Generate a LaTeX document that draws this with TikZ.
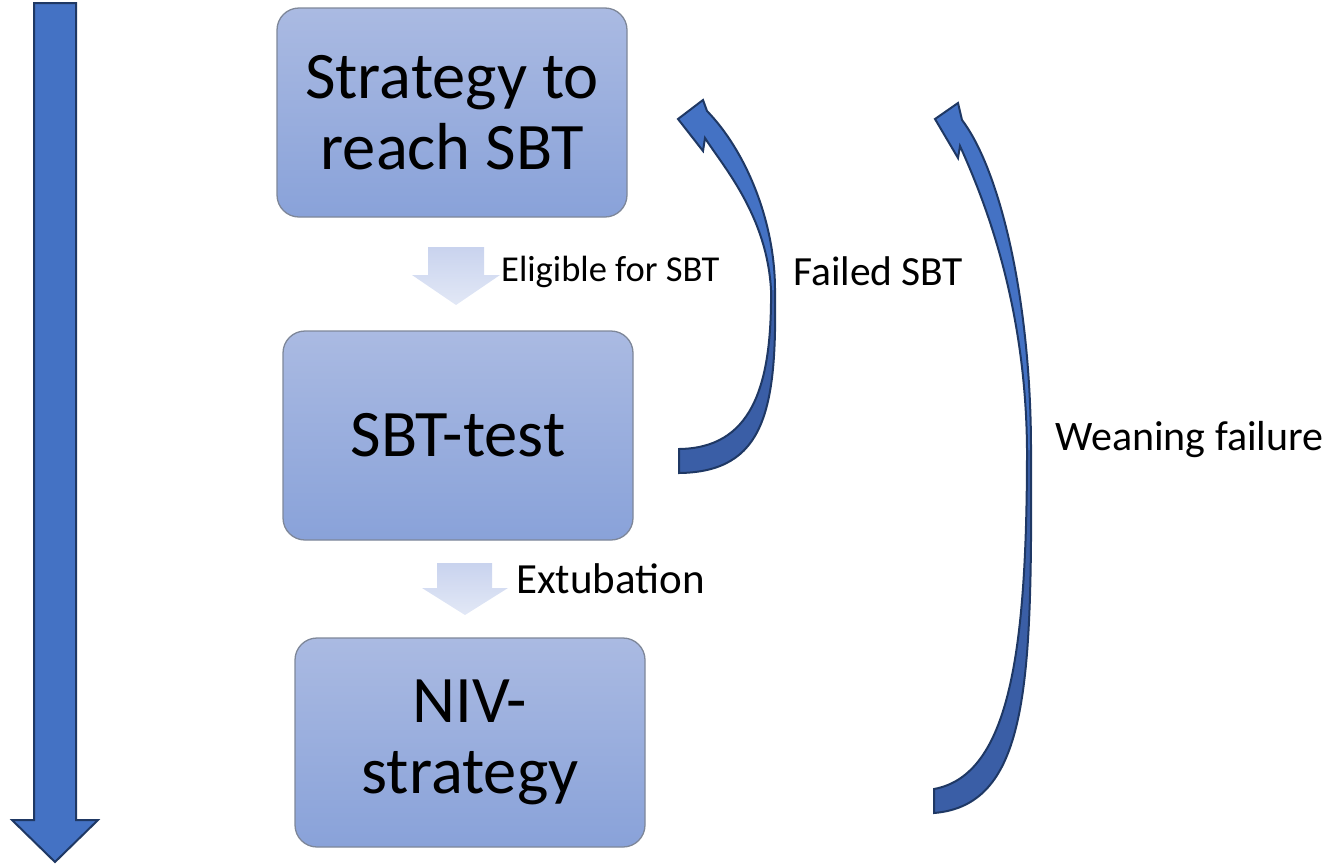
\documentclass[tikz,border=0pt]{standalone}
\usepackage{fontspec}
\setmainfont{Carlito}
\definecolor{arrowblue}{HTML}{4472C4}
\definecolor{arrowdark}{HTML}{3A5EA6}
\definecolor{arrowline}{HTML}{1F3864}
\definecolor{boxtop}{HTML}{AABAE2}
\definecolor{boxbot}{HTML}{89A2D9}
\definecolor{boxline}{HTML}{7E8799}
\definecolor{flowtop}{HTML}{C9D3EE}
\definecolor{flowbot}{HTML}{E2E8F6}
\begin{document}
\begin{tikzpicture}[x=1pt,y=-1pt,
  stage/.style={draw=boxline, line width=1.3pt, rounded corners=22pt,
    top color=boxtop, bottom color=boxbot, minimum width=350pt,
    minimum height=209pt, align=center, inner sep=0pt,
    font=\fontsize{66.5}{71}\selectfont},
  lbl/.style={anchor=base west, inner sep=0pt},
  bandfill/.style={fill=arrowblue},
  banddark/.style={fill=arrowdark},
  bandline/.style={draw=arrowline, line width=2pt, line join=miter},
  flowarrow/.style={top color=flowtop, bottom color=flowbot, draw=none}]
\useasboundingbox (0,0) rectangle (1332,865);

% timeline arrow on the left
\filldraw[fill=arrowblue, draw=arrowline, line width=2pt]
  (34,3) -- (76,3) -- (76,820) -- (98,820) -- (55,862) -- (12,820) -- (34,820) -- cycle;

% stages
\node[stage] (reach) at (452,112.5) {Strategy to\\reach SBT};
\node[stage] (sbt)   at (458,435.5) {SBT-test};
\node[stage] (niv)   at (470,742.5) {NIV-\\strategy};

% forward steps between stages
\shade[flowarrow] (428,247) -- (484,247) -- (484,275) -- (500,275) -- (456,305)
  -- (412,275) -- (428,275) -- cycle;
\shade[flowarrow] (437,563) -- (492,563) -- (492,588) -- (508,588) -- (465,615)
  -- (422,588) -- (437,588) -- cycle;
\node[lbl, font=\fontsize{36.5}{40}\selectfont] (elig) at (501,281) {Eligible for SBT};
\node[lbl, font=\fontsize{43}{48}\selectfont] (extub) at (516,593) {Extubation};

% failed SBT: curved return arrow
\fill[banddark] (679,473) -- (679,449) .. controls (750,448) and (772,390) .. (771,290)
  -- (775,290) .. controls (777,410) and (765,472) .. (679,473) -- cycle;
\fill[bandfill] (771,290) .. controls (767,215) and (722,165) .. (705,138)
  -- (703,151) -- (678,119) -- (703,100) -- (707,111)
  .. controls (745,150) and (775,220) .. (775,290) -- cycle;
\draw[bandline] (679,473) -- (679,449) .. controls (750,448) and (772,390) .. (771,290)
  .. controls (767,215) and (722,165) .. (705,138)
  -- (703,151) -- (678,119) -- (703,100) -- (707,111)
  .. controls (745,150) and (775,220) .. (775,290)
  .. controls (777,410) and (765,472) .. (679,473) -- cycle;
\node[lbl, font=\fontsize{41.5}{48}\selectfont] (failed) at (793,285) {Failed SBT};

% weaning failure: long curved return arrow
\fill[banddark] (934,813) -- (934,789) .. controls (1010,775) and (1027,650) .. (1027,450)
  -- (1031,450) .. controls (1032,680) and (1030,805) .. (934,813) -- cycle;
\fill[bandfill] (1027,450) .. controls (1026,300) and (982,195) .. (960,146)
  -- (958,158) -- (935,119) -- (958,103) -- (962,120)
  .. controls (1000,170) and (1031,300) .. (1031,450) -- cycle;
\draw[bandline] (934,813) -- (934,789) .. controls (1010,775) and (1027,650) .. (1027,450)
  .. controls (1026,300) and (982,195) .. (960,146)
  -- (958,158) -- (935,119) -- (958,103) -- (962,120)
  .. controls (1000,170) and (1031,300) .. (1031,450)
  .. controls (1032,680) and (1030,805) .. (934,813) -- cycle;
\node[lbl, font=\fontsize{42}{48}\selectfont] (wean) at (1055,450) {Weaning failure};
\end{tikzpicture}
\end{document}
